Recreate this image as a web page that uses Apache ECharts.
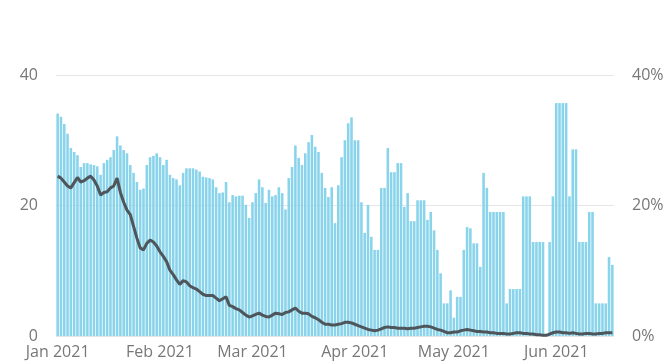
<!DOCTYPE html>
<html>
<head>
<meta charset="utf-8">
<script src="https://cdn.jsdelivr.net/npm/echarts@6/dist/echarts.min.js"></script>
<style>
html,body{margin:0;padding:0;background:#fff;}
#chart{width:668px;height:362px;}
</style>
</head>
<body>
<div id="chart"></div>
<script>
// Daily categories: 1 Jan 2021 .. 18 Jun 2021
const startDate = '2021-01-01';
const dayCount = 169;
const monthNames = ['Jan','Feb','Mar','Apr','May','Jun','Jul','Aug','Sep','Oct','Nov','Dec'];

// Bar series (left axis)
const barValues = [
  34.1,33.6,32.5,31.0,28.8,28.2,27.7,25.9,26.5,26.5,26.3,26.2,26.0,24.7,26.5,27.0,27.4,28.5,30.6,29.2,
  28.5,28.0,26.2,25.0,23.6,22.4,22.6,26.2,27.4,27.6,28.0,27.4,26.2,27.0,24.7,24.2,24.0,23.1,25.0,25.7,
  25.7,25.7,25.5,25.2,24.4,24.3,24.2,24.0,22.8,21.9,22.0,23.6,20.5,21.6,21.4,21.5,21.5,20.1,18.1,20.5,
  21.9,24.0,22.8,20.4,22.4,21.4,21.6,22.8,21.9,19.4,24.2,25.9,29.2,27.3,26.2,28.0,29.7,30.8,29.0,28.2,
  25.0,22.7,21.3,22.8,17.3,23.1,27.4,30.0,32.6,33.5,30.0,30.0,20.5,15.8,20.1,15.2,13.2,13.2,22.7,22.7,
  28.8,25.1,25.1,26.5,26.5,19.8,21.9,17.6,17.6,20.8,20.8,20.8,17.8,19.0,16.2,13.2,9.6,5.0,5.0,7.0,
  2.8,6.0,6.0,13.2,16.7,16.5,14.2,14.2,10.6,25.0,22.7,19.0,19.0,19.0,19.0,19.0,5.0,7.2,7.2,7.2,
  7.2,21.4,21.4,21.4,14.4,14.4,14.4,14.4,0,14.4,21.4,35.7,35.7,35.7,35.7,21.4,28.6,28.6,14.4,14.4,
  14.4,19.0,19.0,5.0,5.0,5.0,5.0,12.1,10.9
];

// Line series (right axis, %)
const lineValues = [
  24.5,24.2,23.6,23.0,22.7,23.5,24.3,23.6,23.8,24.2,24.5,23.9,23.0,21.6,22.0,22.1,22.7,23.0,24.2,22.0,
  20.5,19.3,18.6,16.8,15.0,13.5,13.2,14.2,14.7,14.4,13.8,12.9,12.2,11.4,10.1,9.4,8.6,7.9,8.5,8.3,
  7.7,7.4,7.2,6.8,6.4,6.2,6.2,6.2,5.8,5.4,5.7,6.0,4.7,4.5,4.2,4.0,3.6,3.2,2.9,3.1,
  3.3,3.5,3.2,3.0,2.9,3.2,3.5,3.4,3.3,3.6,3.7,4.0,4.3,3.8,3.5,3.5,3.4,3.0,2.8,2.5,
  2.1,1.8,1.8,1.7,1.7,1.8,1.9,2.1,2.1,2.0,1.8,1.6,1.4,1.2,1.0,0.9,0.8,0.9,1.1,1.3,
  1.4,1.3,1.3,1.2,1.2,1.2,1.1,1.2,1.2,1.3,1.4,1.5,1.5,1.4,1.2,1.0,0.9,0.7,0.5,0.5,
  0.6,0.6,0.8,0.9,1.0,0.9,0.8,0.7,0.7,0.6,0.6,0.5,0.5,0.4,0.4,0.4,0.3,0.3,0.4,0.5,
  0.5,0.4,0.4,0.3,0.3,0.2,0.2,0.1,0.1,0.3,0.5,0.6,0.6,0.5,0.5,0.4,0.5,0.4,0.3,0.3,
  0.4,0.4,0.3,0.3,0.4,0.4,0.5,0.5,0.5
];

const leftTicks = [0, 20, 40];
const rightTicks = ['0%', '20%', '40%'];

const categories = [];
const firstOfMonth = [];
{
  const d0 = new Date(startDate + 'T00:00:00Z');
  for (let i = 0; i < dayCount; i++) {
    const d = new Date(d0.getTime() + i * 86400000);
    categories.push(d.toISOString().slice(0, 10));
    firstOfMonth.push(d.getUTCDate() === 1);
  }
}

const chart = echarts.init(document.getElementById('chart'));
const labelFont = { fontFamily: 'Open Sans', fontSize: 16, color: '#777' };

chart.setOption({
  animation: false,
  grid: { left: 56, right: 54, top: 75, bottom: 26 },
  xAxis: {
    type: 'category',
    data: categories,
    boundaryGap: true,
    axisLine: { show: false },
    axisTick: { show: false },
    axisLabel: Object.assign({
      margin: 8,
      interval: (idx) => firstOfMonth[idx],
      formatter: (v) => {
        const d = new Date(v + 'T00:00:00Z');
        return monthNames[d.getUTCMonth()] + ' ' + d.getUTCFullYear();
      }
    }, labelFont)
  },
  yAxis: [
    {
      type: 'value', min: leftTicks[0], max: leftTicks[2], interval: 20,
      axisLine: { show: false }, axisTick: { show: false },
      splitLine: { lineStyle: { color: '#e6e6e6', width: 1 } },
      axisLabel: Object.assign({ margin: 18 }, labelFont)
    },
    {
      type: 'value', min: 0, max: 40, interval: 20,
      axisLine: { show: false }, axisTick: { show: false },
      splitLine: { show: false },
      axisLabel: Object.assign({ margin: 18, formatter: (v) => rightTicks[leftTicks.indexOf(v)] }, labelFont)
    }
  ],
  series: [
    {
      type: 'bar',
      data: barValues,
      yAxisIndex: 0,
      barCategoryGap: '22%',
      itemStyle: { color: '#8AD4EB' }
    },
    {
      type: 'line',
      data: lineValues,
      yAxisIndex: 1,
      showSymbol: false,
      symbol: 'none',
      lineStyle: { color: '#4e565b', width: 3 },
      z: 5
    }
  ]
});
</script>
</body>
</html>
